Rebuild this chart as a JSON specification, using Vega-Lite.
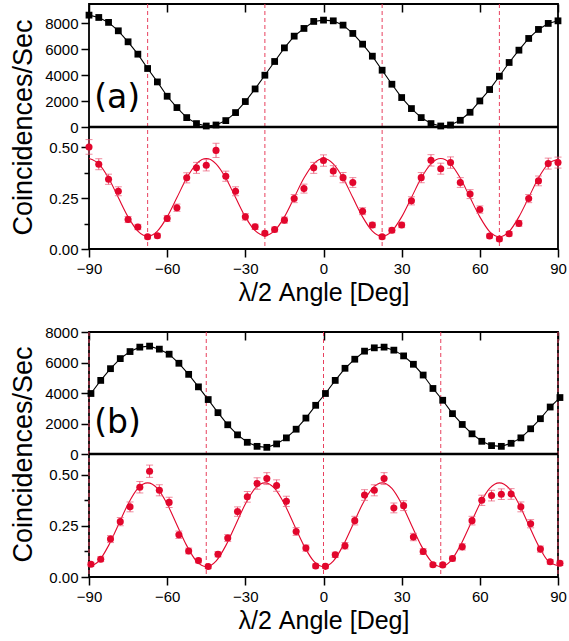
{
  "$schema": "https://vega.github.io/schema/vega-lite/v6.json",
  "background": "white",
  "padding": {"left": 8, "top": 2, "right": 5, "bottom": 5},
  "spacing": 83,
  "bounds": "flush",
  "datasets": {
    "dashA": [{"angle": -67.5}, {"angle": -22.5}, {"angle": 22.5}, {"angle": 67.5}],
    "dashB": [{"angle": -90}, {"angle": -45}, {"angle": 0}, {"angle": 45}, {"angle": 90}],
    "labelA": [{"label": "(a)"}],
    "labelB": [{"label": "(b)"}],
    "zero": [{"v": 0}],
    "topA": [
      {"angle": -90, "rate": 8640}, {"angle": -86.25, "rate": 8460}, {"angle": -82.5, "rate": 8080}, {"angle": -78.75, "rate": 7430},
      {"angle": -75, "rate": 6580}, {"angle": -71.25, "rate": 5625}, {"angle": -67.5, "rate": 4518}, {"angle": -63.75, "rate": 3482},
      {"angle": -60, "rate": 2375}, {"angle": -56.25, "rate": 1501}, {"angle": -52.5, "rate": 727}, {"angle": -48.75, "rate": 263},
      {"angle": -45, "rate": 77}, {"angle": -41.25, "rate": 155}, {"angle": -37.5, "rate": 495}, {"angle": -33.75, "rate": 1114},
      {"angle": -30, "rate": 1965}, {"angle": -26.25, "rate": 2940}, {"angle": -22.5, "rate": 4000}, {"angle": -18.75, "rate": 5060},
      {"angle": -15, "rate": 6112}, {"angle": -11.25, "rate": 7017}, {"angle": -7.5, "rate": 7612}, {"angle": -3.75, "rate": 8154},
      {"angle": 0, "rate": 8255}, {"angle": 3.75, "rate": 8200}, {"angle": 7.5, "rate": 7868}, {"angle": 11.25, "rate": 7226},
      {"angle": 15, "rate": 6398}, {"angle": 18.75, "rate": 5470}, {"angle": 22.5, "rate": 4386}, {"angle": 26.25, "rate": 3304},
      {"angle": 30, "rate": 2275}, {"angle": 33.75, "rate": 1423}, {"angle": 37.5, "rate": 727}, {"angle": 41.25, "rate": 263},
      {"angle": 45, "rate": 77}, {"angle": 48.75, "rate": 155}, {"angle": 52.5, "rate": 518}, {"angle": 56.25, "rate": 1137},
      {"angle": 60, "rate": 2012}, {"angle": 63.75, "rate": 2893}, {"angle": 67.5, "rate": 3923}, {"angle": 71.25, "rate": 4983},
      {"angle": 75, "rate": 5934}, {"angle": 78.75, "rate": 6839}, {"angle": 82.5, "rate": 7535}, {"angle": 86.25, "rate": 8000},
      {"angle": 90, "rate": 8200}
    ],
    "redA": [
      {"angle": -90, "ratio": 0.502, "err": 0.036}, {"angle": -86.25, "ratio": 0.417, "err": 0.027}, {"angle": -82.5, "ratio": 0.343, "err": 0.025}, {"angle": -78.75, "ratio": 0.284, "err": 0.022},
      {"angle": -75, "ratio": 0.145, "err": 0.015}, {"angle": -71.25, "ratio": 0.108, "err": 0.013}, {"angle": -67.5, "ratio": 0.060, "err": 0.01}, {"angle": -63.75, "ratio": 0.065, "err": 0.01},
      {"angle": -60, "ratio": 0.150, "err": 0.015}, {"angle": -56.25, "ratio": 0.203, "err": 0.018}, {"angle": -52.5, "ratio": 0.350, "err": 0.025}, {"angle": -48.75, "ratio": 0.399, "err": 0.027},
      {"angle": -45, "ratio": 0.412, "err": 0.028}, {"angle": -41.25, "ratio": 0.485, "err": 0.035}, {"angle": -37.5, "ratio": 0.358, "err": 0.025}, {"angle": -33.75, "ratio": 0.284, "err": 0.022},
      {"angle": -30, "ratio": 0.158, "err": 0.016}, {"angle": -26.25, "ratio": 0.109, "err": 0.013}, {"angle": -22.5, "ratio": 0.077, "err": 0.011}, {"angle": -18.75, "ratio": 0.096, "err": 0.012},
      {"angle": -15, "ratio": 0.142, "err": 0.015}, {"angle": -11.25, "ratio": 0.248, "err": 0.02}, {"angle": -7.5, "ratio": 0.297, "err": 0.022}, {"angle": -3.75, "ratio": 0.399, "err": 0.027},
      {"angle": 0, "ratio": 0.435, "err": 0.028}, {"angle": 3.75, "ratio": 0.384, "err": 0.026}, {"angle": 7.5, "ratio": 0.351, "err": 0.025}, {"angle": 11.25, "ratio": 0.327, "err": 0.024},
      {"angle": 15, "ratio": 0.186, "err": 0.017}, {"angle": 18.75, "ratio": 0.118, "err": 0.013}, {"angle": 22.5, "ratio": 0.060, "err": 0.01}, {"angle": 26.25, "ratio": 0.092, "err": 0.012},
      {"angle": 30, "ratio": 0.118, "err": 0.013}, {"angle": 33.75, "ratio": 0.237, "err": 0.02}, {"angle": 37.5, "ratio": 0.351, "err": 0.025}, {"angle": 41.25, "ratio": 0.436, "err": 0.028},
      {"angle": 45, "ratio": 0.395, "err": 0.027}, {"angle": 48.75, "ratio": 0.425, "err": 0.028}, {"angle": 52.5, "ratio": 0.327, "err": 0.024}, {"angle": 56.25, "ratio": 0.270, "err": 0.022},
      {"angle": 60, "ratio": 0.194, "err": 0.018}, {"angle": 63.75, "ratio": 0.064, "err": 0.01}, {"angle": 67.5, "ratio": 0.049, "err": 0.01}, {"angle": 71.25, "ratio": 0.075, "err": 0.011},
      {"angle": 75, "ratio": 0.126, "err": 0.014}, {"angle": 78.75, "ratio": 0.248, "err": 0.02}, {"angle": 82.5, "ratio": 0.335, "err": 0.024}, {"angle": 86.25, "ratio": 0.420, "err": 0.027},
      {"angle": 90, "ratio": 0.425, "err": 0.027}
    ],
    "fitA": [
      {"angle": -90, "ratio": 0.445}, {"angle": -86.25, "ratio": 0.419}, {"angle": -82.5, "ratio": 0.349}, {"angle": -78.75, "ratio": 0.253},
      {"angle": -75, "ratio": 0.158}, {"angle": -71.25, "ratio": 0.088}, {"angle": -67.5, "ratio": 0.062}, {"angle": -63.75, "ratio": 0.088},
      {"angle": -60, "ratio": 0.158}, {"angle": -56.25, "ratio": 0.253}, {"angle": -52.5, "ratio": 0.349}, {"angle": -48.75, "ratio": 0.419},
      {"angle": -45, "ratio": 0.445}, {"angle": -41.25, "ratio": 0.419}, {"angle": -37.5, "ratio": 0.349}, {"angle": -33.75, "ratio": 0.253},
      {"angle": -30, "ratio": 0.158}, {"angle": -26.25, "ratio": 0.09}, {"angle": -22.5, "ratio": 0.066}, {"angle": -18.75, "ratio": 0.09},
      {"angle": -15, "ratio": 0.158}, {"angle": -11.25, "ratio": 0.253}, {"angle": -7.5, "ratio": 0.349}, {"angle": -3.75, "ratio": 0.419},
      {"angle": 0, "ratio": 0.445}, {"angle": 3.75, "ratio": 0.419}, {"angle": 7.5, "ratio": 0.349}, {"angle": 11.25, "ratio": 0.253},
      {"angle": 15, "ratio": 0.158}, {"angle": 18.75, "ratio": 0.088}, {"angle": 22.5, "ratio": 0.062}, {"angle": 26.25, "ratio": 0.088},
      {"angle": 30, "ratio": 0.158}, {"angle": 33.75, "ratio": 0.253}, {"angle": 37.5, "ratio": 0.349}, {"angle": 41.25, "ratio": 0.419},
      {"angle": 45, "ratio": 0.445}, {"angle": 48.75, "ratio": 0.419}, {"angle": 52.5, "ratio": 0.349}, {"angle": 56.25, "ratio": 0.253},
      {"angle": 60, "ratio": 0.158}, {"angle": 63.75, "ratio": 0.086}, {"angle": 67.5, "ratio": 0.06}, {"angle": 71.25, "ratio": 0.086},
      {"angle": 75, "ratio": 0.158}, {"angle": 78.75, "ratio": 0.253}, {"angle": 82.5, "ratio": 0.349}, {"angle": 86.25, "ratio": 0.419},
      {"angle": 90, "ratio": 0.44}
    ],
    "topB": [
      {"angle": -89.25, "rate": 3967}, {"angle": -85.5, "rate": 4826}, {"angle": -81.75, "rate": 5595}, {"angle": -78, "rate": 6256},
      {"angle": -74.25, "rate": 6717}, {"angle": -70.5, "rate": 7008}, {"angle": -66.75, "rate": 7074}, {"angle": -63, "rate": 6876},
      {"angle": -59.25, "rate": 6545}, {"angle": -55.5, "rate": 5950}, {"angle": -51.75, "rate": 5223}, {"angle": -48, "rate": 4403},
      {"angle": -44.25, "rate": 3570}, {"angle": -40.5, "rate": 2711}, {"angle": -36.75, "rate": 1917}, {"angle": -33, "rate": 1256},
      {"angle": -29.25, "rate": 767}, {"angle": -25.5, "rate": 502}, {"angle": -21.75, "rate": 436}, {"angle": -18, "rate": 661},
      {"angle": -14.25, "rate": 1058}, {"angle": -10.5, "rate": 1626}, {"angle": -6.75, "rate": 2355}, {"angle": -3, "rate": 3193},
      {"angle": 0.75, "rate": 3967}, {"angle": 4.5, "rate": 4826}, {"angle": 8.25, "rate": 5620}, {"angle": 12, "rate": 6215},
      {"angle": 15.75, "rate": 6744}, {"angle": 19.5, "rate": 6962}, {"angle": 23.25, "rate": 7008}, {"angle": 27, "rate": 6810},
      {"angle": 30.75, "rate": 6433}, {"angle": 34.5, "rate": 5884}, {"angle": 38.25, "rate": 5177}, {"angle": 42, "rate": 4297},
      {"angle": 45.75, "rate": 3524}, {"angle": 49.5, "rate": 2645}, {"angle": 53.25, "rate": 1937}, {"angle": 57, "rate": 1322},
      {"angle": 60.75, "rate": 833}, {"angle": 64.5, "rate": 549}, {"angle": 68.25, "rate": 502}, {"angle": 72, "rate": 701},
      {"angle": 75.75, "rate": 1058}, {"angle": 79.5, "rate": 1653}, {"angle": 83.25, "rate": 2314}, {"angle": 87, "rate": 3081},
      {"angle": 90.75, "rate": 3702}
    ],
    "redB": [
      {"angle": -89.25, "ratio": 0.062, "err": 0.01}, {"angle": -85.5, "ratio": 0.087, "err": 0.012}, {"angle": -81.75, "ratio": 0.185, "err": 0.017}, {"angle": -78, "ratio": 0.270, "err": 0.02},
      {"angle": -74.25, "ratio": 0.342, "err": 0.024}, {"angle": -70.5, "ratio": 0.438, "err": 0.028}, {"angle": -66.75, "ratio": 0.516, "err": 0.03}, {"angle": -63, "ratio": 0.423, "err": 0.027},
      {"angle": -59.25, "ratio": 0.364, "err": 0.025}, {"angle": -55.5, "ratio": 0.206, "err": 0.018}, {"angle": -51.75, "ratio": 0.127, "err": 0.014}, {"angle": -48, "ratio": 0.080, "err": 0.011},
      {"angle": -44.25, "ratio": 0.051, "err": 0.01}, {"angle": -40.5, "ratio": 0.111, "err": 0.013}, {"angle": -36.75, "ratio": 0.190, "err": 0.017}, {"angle": -33, "ratio": 0.319, "err": 0.023},
      {"angle": -29.25, "ratio": 0.391, "err": 0.026}, {"angle": -25.5, "ratio": 0.456, "err": 0.028}, {"angle": -21.75, "ratio": 0.480, "err": 0.029}, {"angle": -18, "ratio": 0.446, "err": 0.028},
      {"angle": -14.25, "ratio": 0.369, "err": 0.025}, {"angle": -10.5, "ratio": 0.222, "err": 0.019}, {"angle": -6.75, "ratio": 0.141, "err": 0.015}, {"angle": -3, "ratio": 0.054, "err": 0.01},
      {"angle": 0.75, "ratio": 0.052, "err": 0.01}, {"angle": 4.5, "ratio": 0.108, "err": 0.013}, {"angle": 8.25, "ratio": 0.152, "err": 0.016}, {"angle": 12, "ratio": 0.275, "err": 0.021},
      {"angle": 15.75, "ratio": 0.400, "err": 0.026}, {"angle": 19.5, "ratio": 0.423, "err": 0.027}, {"angle": 23.25, "ratio": 0.480, "err": 0.029}, {"angle": 27, "ratio": 0.337, "err": 0.024},
      {"angle": 30.75, "ratio": 0.348, "err": 0.024}, {"angle": 34.5, "ratio": 0.195, "err": 0.018}, {"angle": 38.25, "ratio": 0.124, "err": 0.014}, {"angle": 42, "ratio": 0.060, "err": 0.01},
      {"angle": 45.75, "ratio": 0.059, "err": 0.01}, {"angle": 49.5, "ratio": 0.090, "err": 0.012}, {"angle": 53.25, "ratio": 0.147, "err": 0.015}, {"angle": 57, "ratio": 0.275, "err": 0.021},
      {"angle": 60.75, "ratio": 0.374, "err": 0.025}, {"angle": 64.5, "ratio": 0.397, "err": 0.026}, {"angle": 68.25, "ratio": 0.404, "err": 0.026}, {"angle": 72, "ratio": 0.405, "err": 0.026},
      {"angle": 75.75, "ratio": 0.342, "err": 0.024}, {"angle": 79.5, "ratio": 0.260, "err": 0.02}, {"angle": 83.25, "ratio": 0.136, "err": 0.015}, {"angle": 87, "ratio": 0.074, "err": 0.011},
      {"angle": 90.75, "ratio": 0.067, "err": 0.011}
    ],
    "fitB": [
      {"angle": -90, "ratio": 0.05}, {"angle": -86.25, "ratio": 0.077}, {"angle": -82.5, "ratio": 0.153}, {"angle": -78.75, "ratio": 0.254},
      {"angle": -75, "ratio": 0.356}, {"angle": -71.25, "ratio": 0.432}, {"angle": -67.5, "ratio": 0.459}, {"angle": -63.75, "ratio": 0.432},
      {"angle": -60, "ratio": 0.356}, {"angle": -56.25, "ratio": 0.254}, {"angle": -52.5, "ratio": 0.153}, {"angle": -48.75, "ratio": 0.077},
      {"angle": -45, "ratio": 0.05}, {"angle": -41.25, "ratio": 0.077}, {"angle": -37.5, "ratio": 0.153}, {"angle": -33.75, "ratio": 0.254},
      {"angle": -30, "ratio": 0.356}, {"angle": -26.25, "ratio": 0.432}, {"angle": -22.5, "ratio": 0.459}, {"angle": -18.75, "ratio": 0.432},
      {"angle": -15, "ratio": 0.356}, {"angle": -11.25, "ratio": 0.254}, {"angle": -7.5, "ratio": 0.153}, {"angle": -3.75, "ratio": 0.077},
      {"angle": 0, "ratio": 0.05}, {"angle": 3.75, "ratio": 0.077}, {"angle": 7.5, "ratio": 0.153}, {"angle": 11.25, "ratio": 0.254},
      {"angle": 15, "ratio": 0.356}, {"angle": 18.75, "ratio": 0.432}, {"angle": 22.5, "ratio": 0.459}, {"angle": 26.25, "ratio": 0.432},
      {"angle": 30, "ratio": 0.356}, {"angle": 33.75, "ratio": 0.254}, {"angle": 37.5, "ratio": 0.153}, {"angle": 41.25, "ratio": 0.077},
      {"angle": 45, "ratio": 0.05}, {"angle": 48.75, "ratio": 0.077}, {"angle": 52.5, "ratio": 0.153}, {"angle": 56.25, "ratio": 0.254},
      {"angle": 60, "ratio": 0.356}, {"angle": 63.75, "ratio": 0.432}, {"angle": 67.5, "ratio": 0.459}, {"angle": 71.25, "ratio": 0.432},
      {"angle": 75, "ratio": 0.356}, {"angle": 78.75, "ratio": 0.254}, {"angle": 82.5, "ratio": 0.153}, {"angle": 86.25, "ratio": 0.077},
      {"angle": 90, "ratio": 0.055}
    ]
  },
  "vconcat": [
    {
      "width": 469,
      "height": 245,
      "layer": [
        {
          "data": {"name": "dashA"},
          "mark": {"type": "rule", "color": "#e8405e", "strokeWidth": 1, "strokeDash": [4, 3]},
          "encoding": {"x": {"field": "angle", "type": "quantitative", "scale": {"domain": [-90, 90], "nice": false, "zero": false}, "axis": null}}
        },
        {
          "layer": [
            {
              "data": {"name": "topA"},
              "mark": {"type": "line", "color": "black", "strokeWidth": 1.1},
              "encoding": {
                "x": {"field": "angle", "type": "quantitative", "scale": {"domain": [-90, 90], "nice": false, "zero": false},
                  "axis": {"orient": "top", "values": [-90, -75, -60, -45, -30, -15, 0, 15, 30, 45, 60, 75, 90], "labels": false, "domain": false, "title": null,
                    "tickSize": {"condition": {"test": "datum.value % 30 === 0", "value": -8}, "value": -5}}},
                "y": {"field": "rate", "type": "quantitative", "scale": {"domain": [0, 9500], "range": [123, 0], "nice": false, "zero": false},
                  "axis": {"orient": "left", "values": [0, 1000, 2000, 3000, 4000, 5000, 6000, 7000, 8000, 9000], "format": "d",
                    "labelExpr": "datum.value % 2000 === 0 ? datum.label : ''", "domain": false,
                    "tickSize": {"condition": {"test": "datum.value % 2000 === 0", "value": 8}, "value": 5},
                    "title": "Coincidences/Sec", "titleX": -58, "titleY": 123, "titleBaseline": "alphabetic", "titleAlign": "center", "titleAngle": 270, "titleFontSize": 27}}
              }
            },
            {
              "data": {"name": "topA"},
              "mark": {"type": "square", "color": "black", "size": 46, "opacity": 1},
              "encoding": {
                "x": {"field": "angle", "type": "quantitative"},
                "y": {"field": "rate", "type": "quantitative"}
              }
            },
            {
              "data": {"name": "zero"},
              "mark": {"type": "rule", "color": "black", "strokeWidth": 2.5},
              "encoding": {"y": {"field": "v", "type": "quantitative"}}
            },
            {
              "data": {"name": "labelA"},
              "mark": {"type": "text", "font": "DejaVu Sans", "fontSize": 33, "align": "left", "baseline": "alphabetic", "color": "black"},
              "encoding": {
                "x": {"datum": -88, "type": "quantitative"},
                "y": {"datum": 1490, "type": "quantitative"},
                "text": {"field": "label"}
              }
            }
          ]
        },
        {
          "layer": [
            {
              "data": {"name": "fitA"},
              "mark": {"type": "line", "color": "#e2062c", "strokeWidth": 1.1, "interpolate": "monotone"},
              "encoding": {
                "x": {"field": "angle", "type": "quantitative", "scale": {"domain": [-90, 90], "nice": false, "zero": false},
                  "axis": {"orient": "bottom", "values": [-90, -75, -60, -45, -30, -15, 0, 15, 30, 45, 60, 75, 90],
                    "labelExpr": "datum.value % 30 === 0 ? datum.label : ''", "labelFlush": false, "domain": false, "labelPadding": 4,
                    "tickSize": {"condition": {"test": "datum.value % 30 === 0", "value": 8}, "value": 4},
                    "title": "λ/2 Angle [Deg]", "titleFontSize": 25, "titlePadding": 4}},
                "y": {"field": "ratio", "type": "quantitative", "scale": {"domain": [0, 0.6], "range": [245, 123], "nice": false, "zero": false},
                  "axis": {"orient": "left", "values": [0, 0.125, 0.25, 0.375, 0.5], "format": ".2f",
                    "labelExpr": "datum.value === 0 || datum.value === 0.25 || datum.value === 0.5 ? datum.label : ''", "domain": false,
                    "tickSize": {"condition": {"test": "datum.value === 0 || datum.value === 0.25 || datum.value === 0.5", "value": 8}, "value": 5},
                    "title": null}}
              }
            },
            {
              "data": {"name": "redA"},
              "mark": {"type": "errorbar", "ticks": {"size": 7}, "color": "#ea5a76", "thickness": 1},
              "encoding": {
                "x": {"field": "angle", "type": "quantitative"},
                "y": {"field": "ratio", "type": "quantitative"},
                "yError": {"field": "err"}
              }
            },
            {
              "data": {"name": "redA"},
              "mark": {"type": "circle", "color": "#e2062c", "size": 50, "opacity": 1},
              "encoding": {
                "x": {"field": "angle", "type": "quantitative"},
                "y": {"field": "ratio", "type": "quantitative"}
              }
            }
          ]
        }
      ],
      "resolve": {"scale": {"y": "independent"}, "axis": {"x": "independent", "y": "independent"}}
    },
    {
      "width": 469,
      "height": 245,
      "layer": [
        {
          "data": {"name": "dashB"},
          "mark": {"type": "rule", "color": "#e8405e", "strokeWidth": 1, "strokeDash": [4, 3]},
          "encoding": {"x": {"field": "angle", "type": "quantitative", "scale": {"domain": [-90, 90], "nice": false, "zero": false}, "axis": null}}
        },
        {
          "layer": [
            {
              "data": {"name": "topB"},
              "mark": {"type": "line", "color": "black", "strokeWidth": 1.1},
              "encoding": {
                "x": {"field": "angle", "type": "quantitative", "scale": {"domain": [-90, 90], "nice": false, "zero": false},
                  "axis": {"orient": "top", "values": [-90, -75, -60, -45, -30, -15, 0, 15, 30, 45, 60, 75, 90], "labels": false, "domain": false, "title": null,
                    "tickSize": {"condition": {"test": "datum.value % 30 === 0", "value": -8}, "value": -5}}},
                "y": {"field": "rate", "type": "quantitative", "scale": {"domain": [0, 8000], "range": [122, 0], "nice": false, "zero": false},
                  "axis": {"orient": "left", "values": [0, 1000, 2000, 3000, 4000, 5000, 6000, 7000, 8000], "format": "d",
                    "labelExpr": "datum.value % 2000 === 0 ? datum.label : ''", "domain": false,
                    "tickSize": {"condition": {"test": "datum.value % 2000 === 0", "value": 8}, "value": 5},
                    "title": "Coincidences/Sec", "titleX": -58, "titleY": 122, "titleBaseline": "alphabetic", "titleAlign": "center", "titleAngle": 270, "titleFontSize": 27}}
              }
            },
            {
              "data": {"name": "topB"},
              "mark": {"type": "square", "color": "black", "size": 46, "opacity": 1},
              "encoding": {
                "x": {"field": "angle", "type": "quantitative"},
                "y": {"field": "rate", "type": "quantitative"}
              }
            },
            {
              "data": {"name": "zero"},
              "mark": {"type": "rule", "color": "black", "strokeWidth": 2.5},
              "encoding": {"y": {"field": "v", "type": "quantitative"}}
            },
            {
              "data": {"name": "labelB"},
              "mark": {"type": "text", "font": "DejaVu Sans", "fontSize": 33, "align": "left", "baseline": "alphabetic", "color": "black"},
              "encoding": {
                "x": {"datum": -88, "type": "quantitative"},
                "y": {"datum": 1400, "type": "quantitative"},
                "text": {"field": "label"}
              }
            }
          ]
        },
        {
          "layer": [
            {
              "data": {"name": "fitB"},
              "mark": {"type": "line", "color": "#e2062c", "strokeWidth": 1.1, "interpolate": "monotone"},
              "encoding": {
                "x": {"field": "angle", "type": "quantitative", "scale": {"domain": [-90, 90], "nice": false, "zero": false},
                  "axis": {"orient": "bottom", "values": [-90, -75, -60, -45, -30, -15, 0, 15, 30, 45, 60, 75, 90],
                    "labelExpr": "datum.value % 30 === 0 ? datum.label : ''", "labelFlush": false, "domain": false, "labelPadding": 4,
                    "tickSize": {"condition": {"test": "datum.value % 30 === 0", "value": 8}, "value": 4},
                    "title": "λ/2 Angle [Deg]", "titleFontSize": 25, "titlePadding": 4}},
                "y": {"field": "ratio", "type": "quantitative", "scale": {"domain": [0, 0.6], "range": [245, 122], "nice": false, "zero": false},
                  "axis": {"orient": "left", "values": [0, 0.125, 0.25, 0.375, 0.5], "format": ".2f",
                    "labelExpr": "datum.value === 0 || datum.value === 0.25 || datum.value === 0.5 ? datum.label : ''", "domain": false,
                    "tickSize": {"condition": {"test": "datum.value === 0 || datum.value === 0.25 || datum.value === 0.5", "value": 8}, "value": 5},
                    "title": null}}
              }
            },
            {
              "data": {"name": "redB"},
              "mark": {"type": "errorbar", "ticks": {"size": 7}, "color": "#ea5a76", "thickness": 1},
              "encoding": {
                "x": {"field": "angle", "type": "quantitative"},
                "y": {"field": "ratio", "type": "quantitative"},
                "yError": {"field": "err"}
              }
            },
            {
              "data": {"name": "redB"},
              "mark": {"type": "circle", "color": "#e2062c", "size": 50, "opacity": 1},
              "encoding": {
                "x": {"field": "angle", "type": "quantitative"},
                "y": {"field": "ratio", "type": "quantitative"}
              }
            }
          ]
        }
      ],
      "resolve": {"scale": {"y": "independent"}, "axis": {"x": "independent", "y": "independent"}}
    }
  ],
  "config": {
    "font": "Liberation Sans",
    "view": {"stroke": "black", "strokeWidth": 1.8},
    "axis": {
      "grid": false,
      "labelFont": "Liberation Sans",
      "titleFont": "Liberation Sans",
      "labelFontSize": 15,
      "labelColor": "black",
      "titleColor": "black",
      "titleFontWeight": "normal",
      "tickColor": "black",
      "tickWidth": 1.5,
      "domainColor": "black",
      "labelPadding": 3
    }
  }
}
